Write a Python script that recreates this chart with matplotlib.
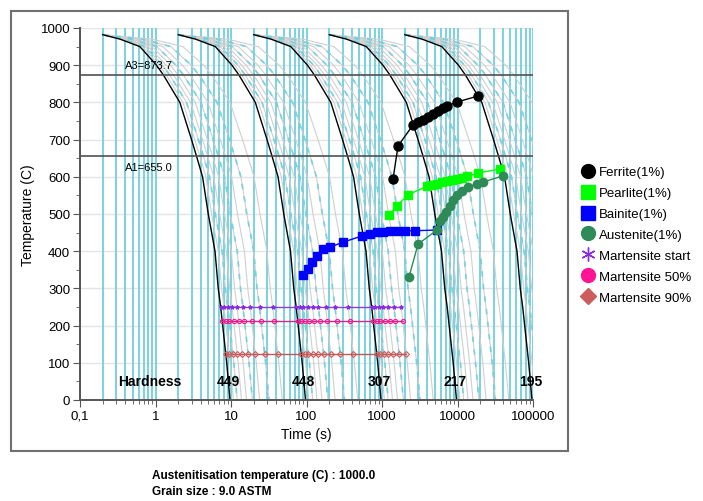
import matplotlib

matplotlib.use("Agg")
import matplotlib.pyplot as plt
import numpy as np
from matplotlib.lines import Line2D
from matplotlib.patches import Rectangle
from matplotlib.ticker import FixedLocator, MultipleLocator, NullFormatter

plt.rcParams["font.family"] = ["Liberation Sans", "DejaVu Sans"]

# first black cooling curve (time s, temperature C)
BASE_TIME = [0.2, 0.34, 0.62, 1.03, 1.27, 2.1, 3.0, 3.5, 4.2, 5.0, 6.14, 6.78, 7.3, 7.76, 8.77, 9.7]
BASE_TEMP = [982, 970, 950, 900, 874, 800, 700, 655, 600, 500, 400, 300, 250, 200, 100, 0]
# the other black curves are the same curve one decade further on
FAMILY_SCALE = [1, 10, 100, 1000, 10000]
# slower (gray) cooling curves in each family, as fraction of the black rate
GRAY_FRACTIONS = [0.9, 0.8, 0.7, 0.6, 0.5, 0.4, 0.3, 0.2]
DASHED_FRACTIONS = [0.8, 0.5, 0.3]
HARDNESS = ["449", "448", "307", "217", "195"]

A3 = 873.7
A1 = 655.0

ferrite_t = [1400, 1630, 2570, 3000, 3490, 4070, 4730, 5520, 6420, 7260, 9850, 18600]
ferrite_T = [594, 683, 739, 747, 753, 760, 769, 777, 786, 790, 801, 817]

pearlite_t = [1240, 1580, 2190, 3960, 4600, 5330, 6190, 7200, 8400, 9700, 11400, 13400, 18800, 36500]
pearlite_T = [497, 522, 551, 575, 578, 581, 585, 588, 591, 594, 598, 601, 610, 621]

bainite_t = [90, 105, 118, 137, 165, 205, 303, 543, 690, 855, 1020, 1280, 1630, 2010, 2730, 5350]
bainite_T = [336, 352, 371, 387, 406, 411, 424, 441, 446, 452, 452, 454, 454, 455, 455, 457]

austenite_t = [2280, 3000, 5350, 5860, 6420, 7050, 7950, 8700, 9800, 11400, 13800, 18200, 21700, 39500]
austenite_T = [331, 419, 457, 481, 493, 505, 522, 537, 551, 561, 573, 581, 586, 602]

# martensite temperatures and the last time at which they still form
MART_TEMP = [250, 213, 125]
MART_LAST_T = [2100, 2100, 2400]
MART_LABELS = ["Martensite start", "Martensite 50%", "Martensite 90%"]
MART_LINE_COLORS = ["#8a3fd0", "#d6248c", "#c05858"]
MART_MARKER_COLORS = ["#8a2be2", "#ff1493", "#cd5c5c"]
MART_MARKERS = ["*", "o", "D"]

XTICKS = [0.1, 1, 10, 100, 1000, 10000, 100000]
XTICK_LABELS = ["0,1", "1", "10", "100", "1000", "10000", "100000"]

CYAN = "#6fcfdc"
base_t = np.array(BASE_TIME)
base_T = np.array(BASE_TEMP)


def curve_time(scale, frac):
    t0 = base_t[0] * scale
    return t0 + (base_t - base_t[0]) * scale / frac


fig = plt.figure(figsize=(7.03, 5.02), dpi=100)
ax = fig.add_axes([80 / 703, 101 / 502, 453 / 703, 372 / 502])
ax.set_xscale("log")
ax.set_xlim(0.1, 1e5)
ax.set_ylim(0, 1000)

for y in range(100, 1001, 100):
    ax.axhline(y, color="#e4e4e4", lw=1, zorder=0)

# cyan verticals at every 1..9 x 10^k
for k in range(-1, 5):
    for m in range(1, 10):
        ax.axvline(m * 10.0 ** k, color=CYAN, lw=1.3, zorder=1)
ax.axvline(1e5, color=CYAN, lw=1.3, zorder=1)

for scale in FAMILY_SCALE:
    for f in GRAY_FRACTIONS:
        ax.plot(curve_time(scale, f), base_T, color="#cfcfcf", lw=0.8, zorder=2)
    for f in DASHED_FRACTIONS:
        ax.plot(curve_time(scale, f), base_T, color=CYAN, lw=1.3,
                dashes=(3, 4), alpha=0.85, zorder=2.5)
    ax.plot(curve_time(scale, 1.0), base_T, color="black", lw=1.0, zorder=3)

for temp, lab, ty, va in [(A3, "A3=873.7", 886, "bottom"), (A1, "A1=655.0", 640, "top")]:
    ax.axhline(temp, color="#505050", lw=1.2, zorder=3)
    ax.text(0.39, ty, lab, fontsize=8, va=va, ha="left", zorder=5)

# martensite lines: a marker where each cooling curve crosses the temperature
for temp, last, col, mcol, mk in zip(MART_TEMP, MART_LAST_T, MART_LINE_COLORS,
                                     MART_MARKER_COLORS, MART_MARKERS):
    tb = np.interp(temp, base_T[::-1], base_t[::-1])
    cross = []
    for scale in FAMILY_SCALE:
        for f in [1.0] + GRAY_FRACTIONS:
            tc = base_t[0] * scale + (tb - base_t[0]) * scale / f
            if tc <= last:
                cross.append(tc)
    cross = np.sort(cross)
    ax.plot(cross, np.full(cross.size, temp), color=col, lw=1.0, marker=mk,
            ms=3, mfc="none", mec=mcol, mew=0.8, zorder=4)

ax.plot(ferrite_t, ferrite_T, color="black", lw=1, marker="o", ms=6.5, zorder=5)
ax.plot(pearlite_t, pearlite_T, color="#00ff00", lw=1, marker="s", ms=6, zorder=5)
ax.plot(bainite_t, bainite_T, color="#0000ff", lw=1, marker="s", ms=5.5, zorder=5)
ax.plot(austenite_t, austenite_T, color="#2e8b57", lw=1, marker="o", ms=6, zorder=5)

ax.text(0.85, 50, "Hardness", fontsize=10, fontweight="bold", ha="center",
        va="center", zorder=6)
for scale, h in zip(FAMILY_SCALE, HARDNESS):
    ax.text(base_t[-1] * scale * 0.95, 50, h, fontsize=10, fontweight="bold",
            ha="center", va="center", zorder=6, clip_on=False)

for side in ["top", "right"]:
    ax.spines[side].set_visible(False)
for side in ["left", "bottom"]:
    ax.spines[side].set_color("#555555")
    ax.spines[side].set_linewidth(1.4)
    ax.spines[side].set_zorder(6)

ax.xaxis.set_major_locator(FixedLocator(XTICKS))
ax.set_xticklabels(XTICK_LABELS)
ax.xaxis.set_minor_formatter(NullFormatter())
ax.yaxis.set_major_locator(MultipleLocator(100))
ax.yaxis.set_minor_locator(MultipleLocator(50))
ax.tick_params(which="major", length=5, color="#555555", labelsize=9.5, pad=2)
ax.tick_params(which="minor", length=3, color="#555555")
ax.set_xlabel("Time (s)", fontsize=10, labelpad=4)
ax.set_ylabel("Temperature (C)", fontsize=10, labelpad=4)

handles = [
    Line2D([], [], ls="none", marker="o", ms=10, color="black"),
    Line2D([], [], ls="none", marker="s", ms=10, color="#00ff00"),
    Line2D([], [], ls="none", marker="s", ms=10, color="#0000ff"),
    Line2D([], [], ls="none", marker="o", ms=10, color="#2e8b57"),
    Line2D([], [], ls="none", marker=(6, 2, 0), ms=10, color="#8a2be2", mew=1),
    Line2D([], [], ls="none", marker="o", ms=10, color="#ff1493"),
    Line2D([], [], ls="none", marker="D", ms=8, color="#cd5c5c"),
]
labels = ["Ferrite(1%)", "Pearlite(1%)", "Bainite(1%)", "Austenite(1%)"] + MART_LABELS
fig.legend(handles, labels, loc="upper left", bbox_to_anchor=(582 / 703, 1 - 167 / 502),
           frameon=False, fontsize=9.5, handlelength=0.9, handletextpad=0.4,
           labelspacing=0.66, borderpad=0, borderaxespad=0)

fig.add_artist(Rectangle((11 / 703, 1 - 452 / 502), 557 / 703, 440 / 502,
                         transform=fig.transFigure, fill=False,
                         edgecolor="#707070", lw=1.5))

fig.text(152 / 703, 1 - 476 / 502, "Austenitisation temperature (C) : 1000.0",
         fontsize=8.5, fontweight="bold", va="center")
fig.text(152 / 703, 1 - 492 / 502, "Grain size : 9.0 ASTM",
         fontsize=8.5, fontweight="bold", va="center")

fig.savefig("out.png", dpi=100)
